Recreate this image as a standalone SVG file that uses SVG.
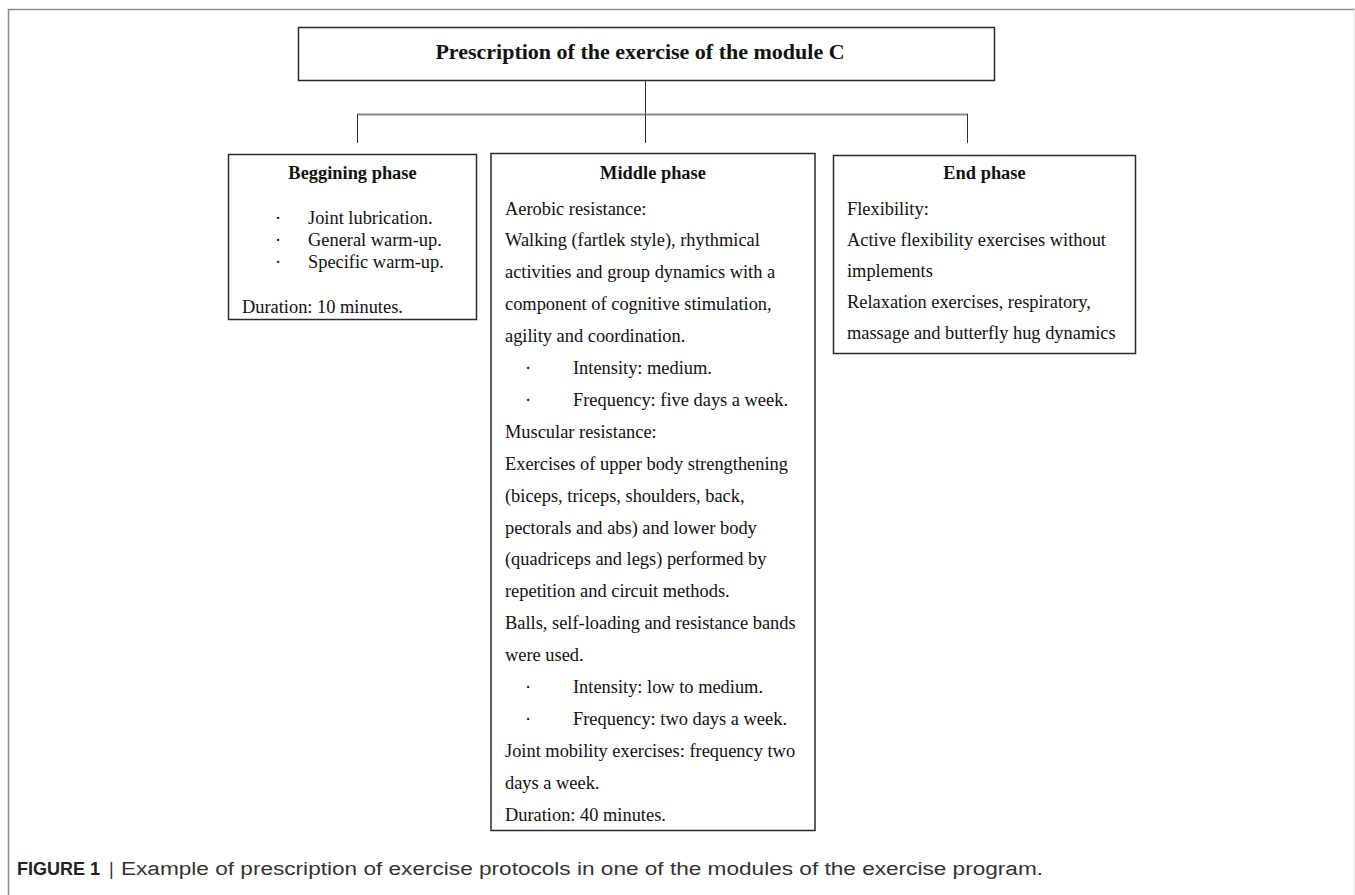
<svg xmlns="http://www.w3.org/2000/svg" width="1355" height="895" viewBox="0 0 1355 895">
<style>
.bg{fill:#ffffff}
.frame{fill:none;stroke:#8a8a8a;stroke-width:1.5}
.box{fill:#ffffff;stroke:#2a2a2a;stroke-width:1.5}
.t{font-family:"Liberation Serif","Times New Roman",serif;font-size:18.4px;fill:#111}
.h{font-family:"Liberation Serif","Times New Roman",serif;font-size:18.4px;font-weight:bold;fill:#111;text-anchor:middle}
.title{font-family:"Liberation Serif","Times New Roman",serif;font-size:22px;font-weight:bold;fill:#111;text-anchor:middle}
.cap{font-family:"Liberation Sans",Arial,sans-serif;font-size:18px;fill:#333}
.capb{font-family:"Liberation Sans",Arial,sans-serif;font-size:18px;font-weight:bold;fill:#222}
.hl{stroke:#8a8a8a;stroke-width:1.8;fill:none}
.vl{stroke:#333;stroke-width:1;fill:none}
</style>
<rect class="bg" x="0" y="0" width="1355" height="895"/>
<g id="frame">
<path class="frame" d="M8.5,895 V9.5 H1355"/>
<line x1="1354" y1="9" x2="1354" y2="895" stroke="#e0e0e0" stroke-width="1"/>
</g>
<g id="connectors">
<line class="vl" x1="645.5" y1="80" x2="645.5" y2="114"/>
<line class="hl" x1="357" y1="114.5" x2="968" y2="114.5"/>
<line class="vl" x1="357.5" y1="114" x2="357.5" y2="143"/>
<line class="vl" x1="645.5" y1="114" x2="645.5" y2="143"/>
<line class="vl" x1="967.5" y1="114" x2="967.5" y2="143"/>
</g>
<g id="node-top">
<rect class="box" x="298.5" y="27.5" width="696" height="53" stroke-width="2"/>
<text class="title" x="640" y="59">Prescription of the exercise of the module C</text>
</g>
<g id="node-begin">
<rect class="box" x="228.5" y="154.5" width="248" height="165"/>
<text class="h" x="352.5" y="179">Beggining phase</text>
<text class="t" x="275" y="224">·</text><text class="t" x="308" y="224">Joint lubrication.</text>
<text class="t" x="275" y="246">·</text><text class="t" x="308" y="246">General warm-up.</text>
<text class="t" x="275" y="268">·</text><text class="t" x="308" y="268">Specific warm-up.</text>
<text class="t" x="242" y="313">Duration: 10 minutes.</text>
</g>
<g id="node-middle">
<rect class="box" x="491" y="153.5" width="324" height="677" stroke-width="2"/>
<text class="h" x="653" y="179">Middle phase</text>
<text class="t" x="505" y="214.5">Aerobic resistance:</text>
<text class="t" x="505" y="246.4">Walking (fartlek style), rhythmical</text>
<text class="t" x="505" y="278.3">activities and group dynamics with a</text>
<text class="t" x="505" y="310.2">component of cognitive stimulation,</text>
<text class="t" x="505" y="342.1">agility and coordination.</text>
<text class="t" x="525" y="374">·</text><text class="t" x="573" y="374">Intensity: medium.</text>
<text class="t" x="525" y="405.9">·</text><text class="t" x="573" y="405.9">Frequency: five days a week.</text>
<text class="t" x="505" y="437.8">Muscular resistance:</text>
<text class="t" x="505" y="469.7">Exercises of upper body strengthening</text>
<text class="t" x="505" y="501.6">(biceps, triceps, shoulders, back,</text>
<text class="t" x="505" y="533.5">pectorals and abs) and lower body</text>
<text class="t" x="505" y="565.4">(quadriceps and legs) performed by</text>
<text class="t" x="505" y="597.3">repetition and circuit methods.</text>
<text class="t" x="505" y="629.2">Balls, self-loading and resistance bands</text>
<text class="t" x="505" y="661.1">were used.</text>
<text class="t" x="525" y="693">·</text><text class="t" x="573" y="693">Intensity: low to medium.</text>
<text class="t" x="525" y="724.9">·</text><text class="t" x="573" y="724.9">Frequency: two days a week.</text>
<text class="t" x="505" y="756.8">Joint mobility exercises: frequency two</text>
<text class="t" x="505" y="788.7">days a week.</text>
<text class="t" x="505" y="820.6">Duration: 40 minutes.</text>
</g>
<g id="node-end">
<rect class="box" x="833.5" y="155.5" width="302" height="198"/>
<text class="h" x="984.5" y="179">End phase</text>
<text class="t" x="847" y="215">Flexibility:</text>
<text class="t" x="847" y="246">Active flexibility exercises without</text>
<text class="t" x="847" y="277">implements</text>
<text class="t" x="847" y="308">Relaxation exercises, respiratory,</text>
<text class="t" x="847" y="339">massage and butterfly hug dynamics</text>
</g>
<g id="caption">
<text class="capb" x="17" y="875">FIGURE 1</text>
<text class="cap" x="109" y="875">|</text>
<text class="cap" x="121" y="875" textLength="922" lengthAdjust="spacingAndGlyphs">Example of prescription of exercise protocols in one of the modules of the exercise program.</text>
</g>
</svg>
